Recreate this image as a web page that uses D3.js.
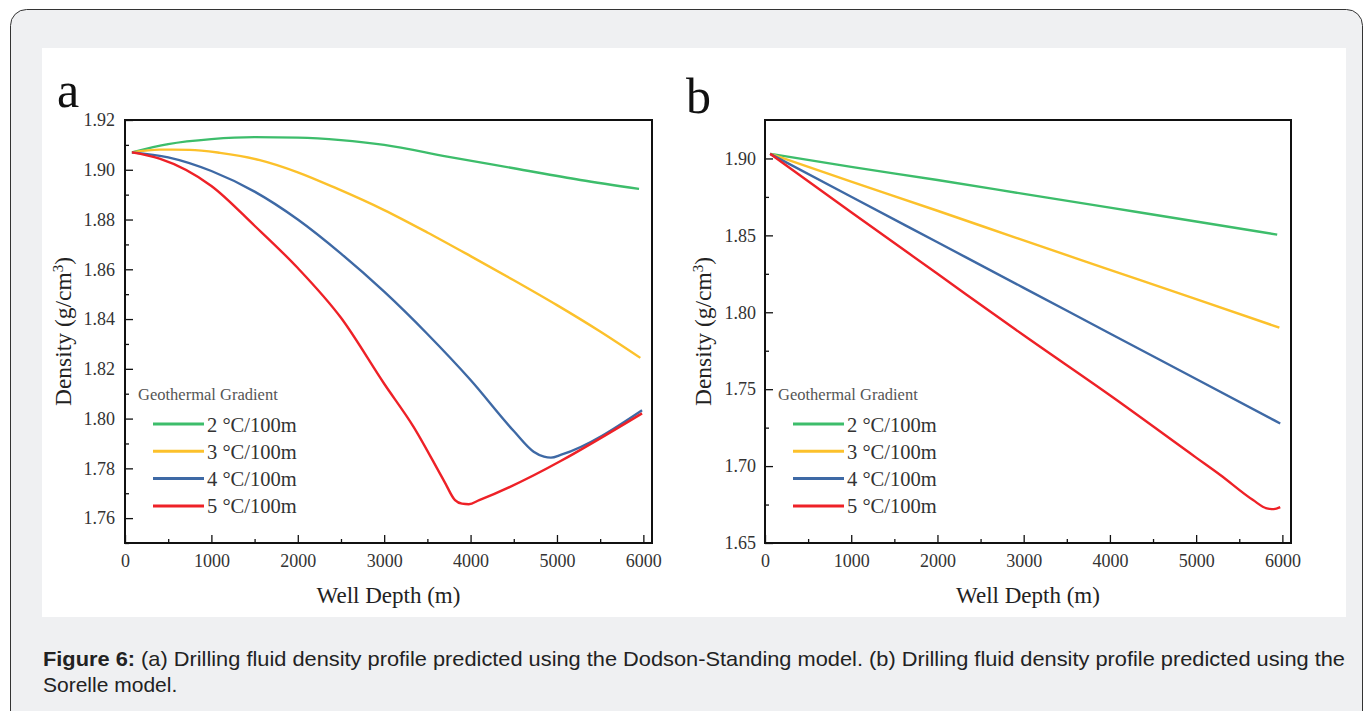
<!DOCTYPE html>
<html>
<head>
<meta charset="utf-8">
<script src="https://cdn.jsdelivr.net/npm/d3@7"></script>
<style>
  body { margin: 0; background: #fff; }
  svg { display: block; }
  .tick text { font-family: "Liberation Serif", "Times New Roman", serif; }
</style>
</head>
<body>
<script>
// ---- data ----
const seriesNames = ["2 °C/100m", "3 °C/100m", "4 °C/100m", "5 °C/100m"];
const seriesColors = ["#3dbd6b", "#fcc12b", "#3e69a5", "#ee2127"];

const xTicks = [0, 1000, 2000, 3000, 4000, 5000, 6000];
const xMinor = [500, 1500, 2500, 3500, 4500, 5500];

const aYTicks = [1.76, 1.78, 1.80, 1.82, 1.84, 1.86, 1.88, 1.90, 1.92];
const aYMinor = [1.75, 1.77, 1.79, 1.81, 1.83, 1.85, 1.87, 1.89, 1.91];
const bYTicks = [1.65, 1.70, 1.75, 1.80, 1.85, 1.90];
const bYMinor = [1.675, 1.725, 1.775, 1.825, 1.875];

// (a) Dodson-Standing model: [depth m, density g/cm3]
const dodson2 = [[80, 1.907], [500, 1.9103], [1000, 1.9123], [1500, 1.9131], [2000, 1.9129],
  [2500, 1.9119], [3000, 1.9100], [3730, 1.9053], [4500, 1.9006],
  [5270, 1.8959], [5950, 1.8923]];
const dodson3 = [[80, 1.907], [400, 1.9081], [750, 1.9080], [1100, 1.9068], [1560, 1.9039],
  [2000, 1.8990], [2450, 1.8925], [3000, 1.8838], [3500, 1.8748], [4000, 1.8653],
  [4500, 1.8556], [5000, 1.8456], [5500, 1.8350], [5965, 1.8244]];
const dodson4 = [[80, 1.907], [500, 1.9050], [1000, 1.8995], [1500, 1.8912], [2000, 1.8800],
  [2500, 1.8663], [3000, 1.8510], [3500, 1.8340], [4000, 1.8155], [4500, 1.7950],
  [4730, 1.7867], [4850, 1.7847], [4930, 1.7843], [5050, 1.7855], [5985, 1.8034]];
const dodson5 = [[80, 1.907], [400, 1.9045], [1000, 1.8935], [1500, 1.8775], [2000, 1.8605],
  [2500, 1.8405], [3000, 1.8140], [3340, 1.7967], [3700, 1.7745], [3820, 1.7672],
  [3900, 1.7658], [3980, 1.7656], [4100, 1.7672], [5985, 1.8021]];

// (b) Sorelle model
const sorelle2 = [[60, 1.903], [1000, 1.8945], [2000, 1.886], [3000, 1.877], [4000, 1.868],
  [5000, 1.859], [5940, 1.8505]];
const sorelle3 = [[60, 1.903], [1000, 1.885], [2000, 1.866], [3000, 1.8467], [4000, 1.8276],
  [5000, 1.8085], [5965, 1.790]];
const sorelle4 = [[60, 1.903], [1000, 1.8751], [2000, 1.8455], [3000, 1.8159], [4000, 1.7862],
  [5000, 1.7566], [5975, 1.7277]];
const sorelle5 = [[60, 1.903], [1000, 1.865], [2000, 1.825], [3000, 1.785], [4000, 1.746],
  [5000, 1.7055], [5280, 1.6942], [5660, 1.6779], [5820, 1.6725], [5900, 1.6720], [5975, 1.6733]];

// ---- page ----
const W = 1365, H = 711;
const svg = d3.select("body").append("svg").attr("width", W).attr("height", H);

svg.append("rect").attr("x", 10.5).attr("y", 9.5).attr("width", 1352).attr("height", 730)
  .attr("rx", 16).attr("fill", "#eff0f2").attr("stroke", "#333").attr("stroke-width", 1);
svg.append("rect").attr("x", 42).attr("y", 48).attr("width", 1304).attr("height", 569)
  .attr("fill", "#fff");

const serif = "'Liberation Serif', 'Times New Roman', serif";

function drawPanel(p) {
  const x = d3.scaleLinear().domain([0, 6100]).range([p.left, p.right]);
  const y = d3.scaleLinear().domain(p.yDomain).range([p.bottom, p.top]);
  const g = svg.append("g");

  // minor ticks
  g.append("g").attr("transform", `translate(0,${p.bottom})`)
    .call(d3.axisBottom(x).tickValues(xMinor).tickSize(-4).tickFormat(""))
    .call(a => a.select(".domain").remove());
  g.append("g").attr("transform", `translate(${p.left},0)`)
    .call(d3.axisLeft(y).tickValues(p.yMinor).tickSize(-4).tickFormat(""))
    .call(a => a.select(".domain").remove());

  // major ticks
  const xa = g.append("g").attr("transform", `translate(0,${p.bottom})`)
    .call(d3.axisBottom(x).tickValues(xTicks).tickSize(-8).tickPadding(11).tickFormat(d3.format("d")));
  const ya = g.append("g").attr("transform", `translate(${p.left},0)`)
    .call(d3.axisLeft(y).tickValues(p.yTicks).tickSize(-8).tickPadding(p.ypad).tickFormat(d3.format(".2f")));
  [xa, ya].forEach(a => {
    a.select(".domain").remove();
    a.selectAll("text").attr("font-size", 18).attr("fill", "#333");
  });
  g.selectAll(".tick line").attr("stroke", "#111").attr("stroke-width", 1.3);

  // frame
  g.append("rect").attr("x", p.left).attr("y", p.top)
    .attr("width", p.right - p.left).attr("height", p.bottom - p.top)
    .attr("fill", "none").attr("stroke", "#111").attr("stroke-width", 2);

  // series
  const line = d3.line().x(d => x(d[0])).y(d => y(d[1])).curve(d3.curveMonotoneX);
  p.series.forEach((s, i) => {
    g.append("path").datum(s).attr("d", line)
      .attr("fill", "none").attr("stroke", seriesColors[i]).attr("stroke-width", 2.4);
  });

  // legend
  g.append("text").attr("x", p.legX).attr("y", 400)
    .attr("font-family", serif).attr("font-size", 16.5).attr("fill", "#555")
    .text("Geothermal Gradient");
  seriesNames.forEach((n, i) => {
    const ly = 424 + i * 27.3;
    g.append("line").attr("x1", p.legX + 15).attr("x2", p.legX + 66)
      .attr("y1", ly).attr("y2", ly)
      .attr("stroke", seriesColors[i]).attr("stroke-width", 3);
    g.append("text").attr("x", p.legX + 69).attr("y", ly + 7.5)
      .attr("font-family", serif).attr("font-size", 20.5).attr("fill", "#333")
      .text(n);
  });

  // axis titles
  const cx = (p.left + p.right) / 2, cy = (p.top + p.bottom) / 2;
  g.append("text").attr("x", cx).attr("y", 603).attr("text-anchor", "middle")
    .attr("font-family", serif).attr("font-size", 23).attr("fill", "#222")
    .text("Well Depth (m)");
  const yl = g.append("text").attr("transform", `translate(${p.ylabX},${cy}) rotate(-90)`)
    .attr("text-anchor", "middle").attr("font-family", serif).attr("font-size", 23.5).attr("fill", "#222");
  yl.append("tspan").text("Density (g/cm");
  yl.append("tspan").attr("dy", -8).attr("font-size", 15).text("3");
  yl.append("tspan").attr("dy", 8).text(")");

  // panel letter
  g.append("text").attr("x", p.letX).attr("y", p.letY)
    .attr("font-family", serif).attr("font-size", 50).attr("fill", "#111")
    .text(p.letter);
}

drawPanel({
  left: 125, right: 652, top: 120, bottom: 543,
  yDomain: [1.75, 1.92], yTicks: aYTicks, yMinor: aYMinor, ypad: 10,
  series: [dodson2, dodson3, dodson4, dodson5],
  legX: 138, ylabX: 71, letter: "a", letX: 57, letY: 107
});
drawPanel({
  left: 765, right: 1291, top: 120, bottom: 543,
  yDomain: [1.65, 1.925], yTicks: bYTicks, yMinor: bYMinor, ypad: 9,
  series: [sorelle2, sorelle3, sorelle4, sorelle5],
  legX: 778, ylabX: 711, letter: "b", letX: 686, letY: 113
});

// ---- caption ----
const sans = "'Liberation Sans', Arial, sans-serif";
const cap1 = svg.append("text").attr("x", 43).attr("y", 666)
  .attr("font-family", sans).attr("font-size", 21).attr("fill", "#222")
  .attr("textLength", 1302).attr("lengthAdjust", "spacingAndGlyphs");
cap1.append("tspan").attr("font-weight", "bold").text("Figure 6:");
cap1.append("tspan").text(" (a) Drilling fluid density profile predicted using the Dodson-Standing model. (b) Drilling fluid density profile predicted using the");
svg.append("text").attr("x", 43).attr("y", 692)
  .attr("font-family", sans).attr("font-size", 21).attr("fill", "#222")
  .text("Sorelle model.");
</script>
</body>
</html>
